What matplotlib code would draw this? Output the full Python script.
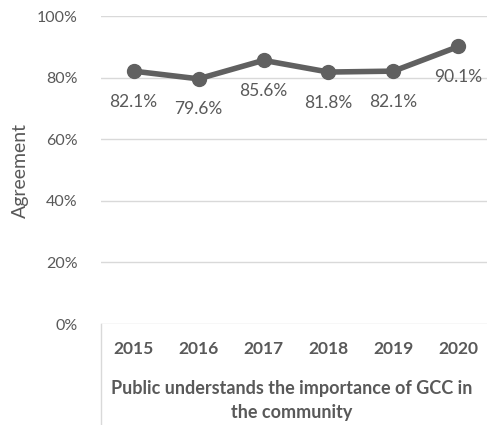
import matplotlib
matplotlib.use("Agg")
from matplotlib import pyplot as plt

years = ['2015', '2016', '2017', '2018', '2019', '2020']
agreement = [82.1, 79.6, 85.6, 81.8, 82.1, 90.1]
group_label = "Public understands the importance of GCC in\nthe community"

plt.rcParams['font.family'] = ['Lato', 'DejaVu Sans']
txt = '#595959'
grid = '#d9d9d9'

fig = plt.figure(figsize=(4.87, 4.25), dpi=100)
W, H = 487, 425
ax = fig.add_axes([101 / W, 101 / H, 390 / W, 308 / H])

x = list(range(len(years)))
ax.plot(x, agreement, color='#606060', lw=4, marker='o', ms=10, zorder=3, clip_on=False)

for xi, v in zip(x, agreement):
    ax.annotate(f"{v:.1f}%", (xi, v), xytext=(0, -22), textcoords='offset points',
                ha='center', va='center', fontsize=12.5, color=txt)

ax.set_xlim(-0.5, 5.5)
ax.set_ylim(0, 100)
ax.set_yticks([0, 20, 40, 60, 80, 100])
ax.set_yticklabels(['0%', '20%', '40%', '60%', '80%', '100%'], fontsize=11.5, color=txt)
ax.yaxis.grid(True, color=grid, lw=1)
ax.set_axisbelow(True)
ax.tick_params(axis='y', length=0, pad=17)
ax.set_xticks(x)
ax.set_xticklabels(years, fontsize=12.5, fontweight='bold', color=txt)
ax.tick_params(axis='x', length=0, pad=12)
for s in ax.spines.values():
    s.set_visible(False)

ax.set_ylabel('Agreement', fontsize=14, color=txt)
ax.yaxis.set_label_coords(-0.185, 0.5)

# category table lines
ax.plot([0, 0], [0, -0.33], transform=ax.transAxes, color=grid, lw=1, clip_on=False)
ax.text(0.49, -0.183, group_label, transform=ax.transAxes, ha='center', va='top',
        fontsize=13, fontweight='bold', color=txt, linespacing=1.45)

fig.savefig('out.png', dpi=100)
